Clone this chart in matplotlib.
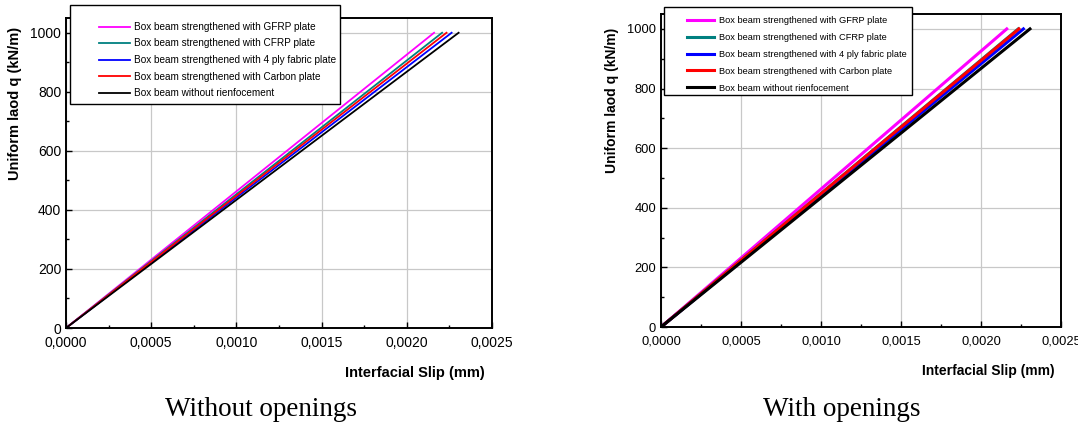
import matplotlib.pyplot as plt
from matplotlib.patches import Rectangle
from matplotlib.ticker import FuncFormatter, MultipleLocator

# load points (kN/m) shared by all curves
load_q = [0, 1000]

labels = ['Box beam strengthened with GFRP plate',
          'Box beam strengthened with CFRP plate',
          'Box beam strengthened with 4 ply fabric plate',
          'Box beam strengthened with Carbon plate',
          'Box beam without rienfocement']
colors = ['#ff00ff', '#008080', '#0000ff', '#ff0000', '#000000']

# interfacial slip (mm) at each load point
slip_without = [[0, 0.002160],
                [0, 0.002207],
                [0, 0.002263],
                [0, 0.002233],
                [0, 0.002304]]
slip_with = [[0, 0.002161],
             [0, 0.002233],
             [0, 0.002265],
             [0, 0.002237],
             [0, 0.002306]]

plt.rcParams['font.family'] = ['Liberation Sans', 'DejaVu Sans']

fig = plt.figure(figsize=(10.78, 4.3), dpi=100)
W, H = 1078, 430


def fx(x):
    return x / W


def fy(y):
    return 1 - y / H


def panel(box, slips, lw, tick_fs, leg):
    x0, x1, ytop, ybot = box
    ax = fig.add_axes([fx(x0), fy(ybot), (x1 - x0) / W, (ybot - ytop) / H])
    for s, lab, c in zip(slips, labels, colors):
        ax.plot(s, load_q, color=c, lw=lw, label=lab)
    ax.set_xlim(0, 0.0025)
    ax.set_ylim(0, 1050)
    ax.xaxis.set_major_locator(MultipleLocator(0.0005))
    ax.xaxis.set_minor_locator(MultipleLocator(0.00025))
    ax.yaxis.set_major_locator(MultipleLocator(200))
    ax.yaxis.set_minor_locator(MultipleLocator(100))
    ax.xaxis.set_major_formatter(FuncFormatter(lambda v, p: f'{v:.4f}'.replace('.', ',')))
    ax.grid(True, which='major', color='#c8c8c8', lw=0.9)
    ax.set_axisbelow(True)
    ax.tick_params(which='both', direction='in', labelsize=tick_fs, width=1)
    ax.tick_params(which='major', length=4)
    ax.tick_params(which='minor', length=2)
    ax.tick_params(axis='x', pad=6)
    for sp in ax.spines.values():
        sp.set_linewidth(1.4)

    # legend: frame drawn by hand, entries placed inside it
    bx0, by0, bx1, by1, hx, ty, fs, hl, hp, ls = leg
    fig.add_artist(Rectangle((fx(bx0), fy(by1)), (bx1 - bx0) / W, (by1 - by0) / H,
                             transform=fig.transFigure, facecolor='white',
                             edgecolor='black', lw=1.0, zorder=4))
    handles, labs = ax.get_legend_handles_labels()
    lg = fig.legend(handles, labs, loc='upper left', bbox_to_anchor=(fx(hx), fy(ty)),
                    frameon=False, fontsize=fs, handlelength=hl, handletextpad=hp,
                    labelspacing=ls, borderpad=0, borderaxespad=0)
    lg.set_zorder(5)
    return ax


ax1 = panel((66, 492, 18, 328), slip_without, 1.3, 10,
            (70, 5, 340, 104, 99, 22, 7.2, 3.1, 0.35, 0.65))
fig.text(fx(415), fy(373), 'Interfacial Slip (mm)', ha='center', va='center',
         fontsize=10.5, fontweight='bold')
fig.text(fx(15), fy(103), 'Uniform laod q (kN/m)', rotation=90, ha='center',
         va='center', fontsize=10.5, fontweight='bold')
fig.text(fx(261), fy(410), 'Without openings', ha='center', va='center',
         fontsize=19.5, family=['Liberation Serif', 'DejaVu Serif'])

ax2 = panel((661, 1061, 14, 327), slip_with, 2.2, 9.3,
            (664, 7, 912, 95, 687, 16, 6.7, 2.9, 0.5, 0.85))
fig.text(fx(988), fy(371), 'Interfacial Slip (mm)', ha='center', va='center',
         fontsize=10, fontweight='bold')
fig.text(fx(612), fy(100), 'Uniform laod q (kN/m)', rotation=90, ha='center',
         va='center', fontsize=10, fontweight='bold')
fig.text(fx(842), fy(410), 'With openings', ha='center', va='center',
         fontsize=19.5, family=['Liberation Serif', 'DejaVu Serif'])

fig.savefig('out.png', dpi=100)
